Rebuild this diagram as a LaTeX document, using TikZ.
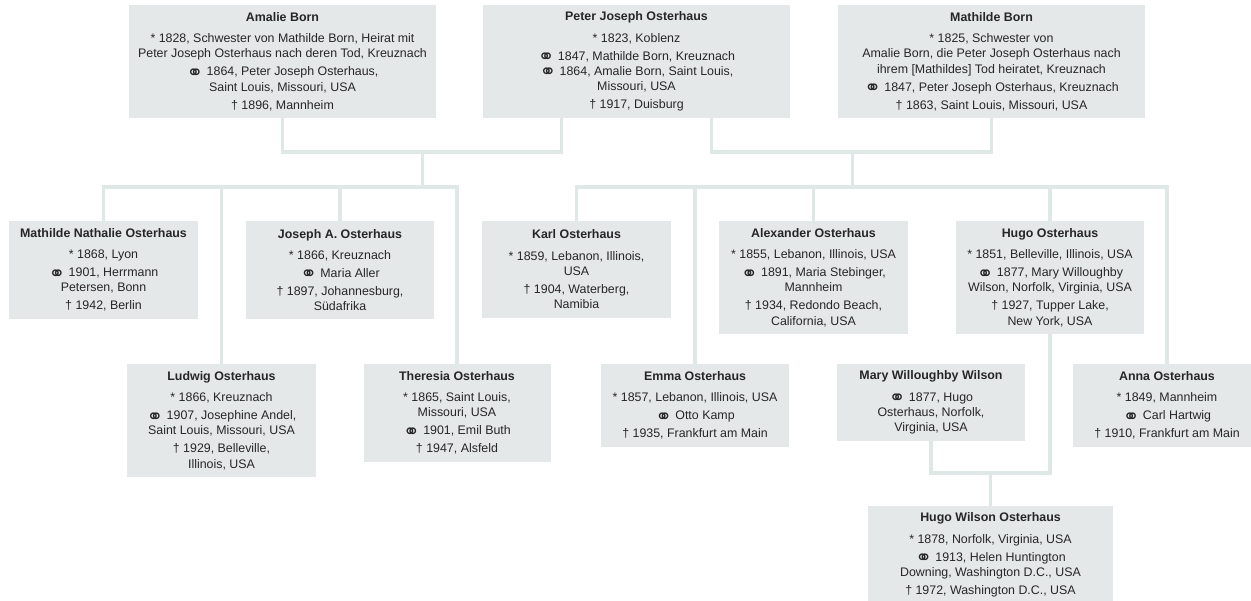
\documentclass[tikz,border=0pt]{standalone}
\usepackage{fontspec}
\setmainfont{Liberation Sans}
\newfontfamily\symfont{DejaVu Sans}
\newcommand{\wed}{\smash{\raisebox{-3.5pt}{\scalebox{1.6}{\symfont\char"26AD}}}}
\definecolor{boxfill}{HTML}{E5E8E9}
\definecolor{linecol}{HTML}{DFE7E7}
\definecolor{txt}{HTML}{262626}
\tikzset{
  person/.style={fill=boxfill, draw=none, inner sep=0pt, align=center,
    font=\fontsize{12.4}{15.3}\selectfont, text=txt},
  link/.style={draw=linecol, line width=3.5pt},
}
\begin{document}
\begin{tikzpicture}[x=1pt,y=-1pt]
\useasboundingbox (0,0) rectangle (1251,601);
% top row
\node[person, minimum width=307pt, minimum height=113pt] (amalie) at (282.5,61.5) {\textbf{Amalie Born}\\[6pt]
* 1828, Schwester von Mathilde Born, Heirat mit\\
Peter Joseph Osterhaus nach deren Tod, Kreuznach\\[2.7pt]
\wed{} 1864, Peter Joseph Osterhaus,\\
Saint Louis, Missouri, USA\\[2.7pt]
† 1896, Mannheim};
\node[person, minimum width=307pt, minimum height=113pt] (peter) at (636.5,61.5) {\textbf{Peter Joseph Osterhaus}\\[6pt]
* 1823, Koblenz\\[2.7pt]
\wed{} 1847, Mathilde Born, Kreuznach\\
\wed{} 1864, Amalie Born, Saint Louis,\\
Missouri, USA\\[2.7pt]
† 1917, Duisburg};
\node[person, minimum width=307pt, minimum height=113pt] (mathilde) at (991.5,61.5) {\textbf{Mathilde Born}\\[6pt]
* 1825, Schwester von\\
Amalie Born, die Peter Joseph Osterhaus nach\\
ihrem [Mathildes] Tod heiratet, Kreuznach\\[2.7pt]
\wed{} 1847, Peter Joseph Osterhaus, Kreuznach\\[2.7pt]
† 1863, Saint Louis, Missouri, USA};
% middle row
\node[person, minimum width=189pt, minimum height=98pt] (mnat) at (103.5,270) {\textbf{Mathilde Nathalie Osterhaus}\\[6pt]
* 1868, Lyon\\[2.7pt]
\wed{} 1901, Herrmann\\
Petersen, Bonn\\[2.7pt]
† 1942, Berlin};
\node[person, minimum width=188pt, minimum height=98pt] (josepha) at (340,270) {\textbf{Joseph A. Osterhaus}\\[6pt]
* 1866, Kreuznach\\[2.7pt]
\wed{} Maria Aller\\[2.7pt]
† 1897, Johannesburg,\\
Südafrika};
\node[person, minimum width=189pt, minimum height=97pt] (karl) at (576.5,269.5) {\textbf{Karl Osterhaus}\\[6pt]
* 1859, Lebanon, Illinois,\\
USA\\[2.7pt]
† 1904, Waterberg,\\
Namibia};
\node[person, minimum width=189pt, minimum height=113pt] (alex) at (813.5,277.5) {\textbf{Alexander Osterhaus}\\[6pt]
* 1855, Lebanon, Illinois, USA\\[2.7pt]
\wed{} 1891, Maria Stebinger,\\
Mannheim\\[2.7pt]
† 1934, Redondo Beach,\\
California, USA};
\node[person, minimum width=188pt, minimum height=113pt] (hugo) at (1050,277.5) {\textbf{Hugo Osterhaus}\\[6pt]
* 1851, Belleville, Illinois, USA\\[2.7pt]
\wed{} 1877, Mary Willoughby\\
Wilson, Norfolk, Virginia, USA\\[2.7pt]
† 1927, Tupper Lake,\\
New York, USA};
% bottom row
\node[person, minimum width=189pt, minimum height=113pt] (ludwig) at (221.5,420.5) {\textbf{Ludwig Osterhaus}\\[6pt]
* 1866, Kreuznach\\[2.7pt]
\wed{} 1907, Josephine Andel,\\
Saint Louis, Missouri, USA\\[2.7pt]
† 1929, Belleville,\\
Illinois, USA};
\node[person, minimum width=187pt, minimum height=98pt] (theresia) at (457,413) {\textbf{Theresia Osterhaus}\\[6pt]
* 1865, Saint Louis,\\
Missouri, USA\\[2.7pt]
\wed{} 1901, Emil Buth\\[2.7pt]
† 1947, Alsfeld};
\node[person, minimum width=188pt, minimum height=83pt] (emma) at (695,405.5) {\textbf{Emma Osterhaus}\\[6pt]
* 1857, Lebanon, Illinois, USA\\[2.7pt]
\wed{} Otto Kamp\\[2.7pt]
† 1935, Frankfurt am Main};
\node[person, minimum width=188pt, minimum height=77pt] (mary) at (931,402.5) {\textbf{Mary Willoughby Wilson}\\[6pt]
\wed{} 1877, Hugo\\
Osterhaus, Norfolk,\\
Virginia, USA};
\node[person, minimum width=188pt, minimum height=83pt] (anna) at (1167,405.5) {\textbf{Anna Osterhaus}\\[6pt]
* 1849, Mannheim\\[2.7pt]
\wed{} Carl Hartwig\\[2.7pt]
† 1910, Frankfurt am Main};
\node[person, minimum width=245pt, minimum height=98pt] (hugow) at (990.5,555) {\textbf{Hugo Wilson Osterhaus}\\[6pt]
* 1878, Norfolk, Virginia, USA\\[2.7pt]
\wed{} 1913, Helen Huntington\\
Downing, Washington D.C., USA\\[2.7pt]
† 1972, Washington D.C., USA};
% connectors
\coordinate (m1) at (422.5,152);
\coordinate (m2) at (852.5,152);
\coordinate (c1) at (422.5,187);
\coordinate (c2) at (852.5,187);
\coordinate (h1) at (990.5,473);
\draw[link] (amalie.south) |- (m1) -| ([xshift=-75pt]peter.south);
\draw[link] ([xshift=75pt]peter.south) |- (m2) -| (mathilde.south);
\draw[link] (m1) -- (c1);
\draw[link] (m2) -- (c2);
\draw[link] (mnat.north) |- (c1) -| (theresia.north);
\draw[link] (ludwig.north) -- (ludwig.north |- c1);
\draw[link] (josepha.north) -- (josepha.north |- c1);
\draw[link] (karl.north) |- (c2) -| (anna.north);
\draw[link] (emma.north) -- (emma.north |- c2);
\draw[link] (alex.north) -- (alex.north |- c2);
\draw[link] (hugo.north) -- (hugo.north |- c2);
\draw[link] (hugo.south) |- (h1) -| (mary.south);
\draw[link] (h1) -- (hugow.north);
\end{tikzpicture}
\end{document}
